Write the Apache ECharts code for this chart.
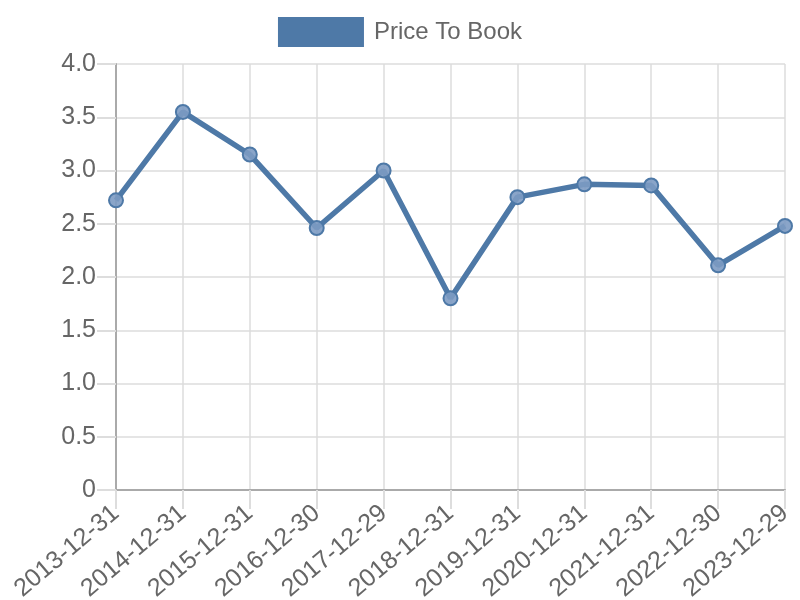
<!DOCTYPE html>
<html><head><meta charset="utf-8">
<script src="https://cdn.jsdelivr.net/npm/echarts@6/dist/echarts.min.js"></script>
<style>html,body{margin:0;padding:0;background:#fff}#c{width:800px;height:600px}</style>
</head><body><div id="c"></div>
<script>
const categories = ["2013-12-31","2014-12-31","2015-12-31","2016-12-30","2017-12-29","2018-12-31","2019-12-31","2020-12-31","2021-12-31","2022-12-30","2023-12-29"];
const priceToBook = [2.72, 3.55, 3.15, 2.46, 3.0, 1.80, 2.75, 2.87, 2.86, 2.11, 2.48];
const seriesName = "Price To Book";
const yTicks = {min: 0, max: 4, interval: 0.5};

const FONT = 'Liberation Sans, Arial, sans-serif';
const chart = echarts.init(document.getElementById('c'), null, {renderer: 'canvas'});
chart.setOption({
  animation: false,
  textStyle: {fontFamily: FONT},
  legend: {
    top: 12, left: 'center',
    itemWidth: 86, itemHeight: 30, itemGap: 10,
    icon: 'rect',
    textStyle: {fontSize: 24, color: '#666', fontFamily: FONT, padding: [0, 0, 0, 5]},
    data: [{name: seriesName, icon: 'rect', itemStyle: {color: '#4e79a7', borderWidth: 0}}]
  },
  grid: {left: 116, right: 15, top: 64, bottom: 110, containLabel: false, outerBoundsMode: 'none'},
  xAxis: {
    type: 'category', data: categories, boundaryGap: false,
    axisLine: {lineStyle: {color: '#aaa', width: 2}},
    axisTick: {show: true, length: 19, alignWithLabel: true, lineStyle: {color: '#ddd', width: 2}},
    splitLine: {show: true, lineStyle: {color: '#ddd', width: 1.5}},
    axisLabel: {rotate: 40, fontSize: 25, color: '#666', margin: 20, interval: 0, fontFamily: FONT}
  },
  yAxis: {
    type: 'value', min: yTicks.min, max: yTicks.max, interval: yTicks.interval,
    axisLine: {show: true, lineStyle: {color: '#aaa', width: 2}},
    axisTick: {show: true, length: 19, lineStyle: {color: '#ddd', width: 2}},
    splitLine: {show: true, lineStyle: {color: '#ddd', width: 1.5}},
    axisLabel: {fontSize: 25, color: '#666', margin: 20, fontFamily: FONT,
      formatter: v => v === 0 ? '0' : v.toFixed(1)}
  },
  series: [{
    name: seriesName, type: 'line', data: priceToBook,
    symbol: 'circle', symbolSize: 14,
    lineStyle: {color: '#4e79a7', width: 5.5},
    itemStyle: {color: 'rgba(125,155,195,0.9)', borderColor: '#4e79a7', borderWidth: 2},
    z: 3
  }]
});
</script></body></html>
